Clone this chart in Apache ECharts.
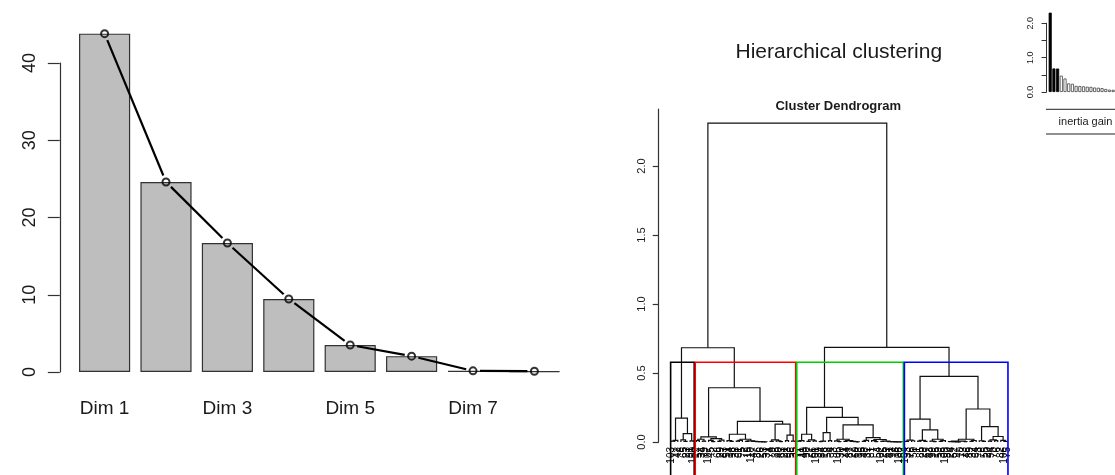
<!DOCTYPE html>
<html><head><meta charset="utf-8">
<script src="https://cdn.jsdelivr.net/npm/echarts@6/dist/echarts.min.js"></script>
<style>html,body{margin:0;padding:0;background:#fff}#c{width:1115px;height:475px}</style>
</head><body><div id="c"></div>
<script>
// ---------- scree plot data ----------
const dims = ['Dim 1','Dim 2','Dim 3','Dim 4','Dim 5','Dim 6','Dim 7','Dim 8'];
const eigPct = [43.8, 24.6, 16.7, 9.45, 3.5, 2.05, 0.15, 0.1];
const screeTicks = [0, 10, 20, 30, 40];

// ---------- dendrogram data (leaves = positions in plotting order, [left, right, height]) ----------
const clusterBlack = [[[0,1,0.006],2,0.012],[[3,[4,5,0.004],0.015],[6,7,0.008],0.06],0.173];
const clusterRed = [
  [[[8,9,0.01],[10,11,0.006],0.02],[[12,[13,14,0.003],0.012],[[15,16,0.005],17,0.014],0.025],0.037],
  [
    [[18,[19,20,0.004],0.01],[[[21,22,0.006],23,0.012],[[24,25,0.004],[26,[27,[28,[29,[30,31,0.001],0.001],0.002],0.003],0.004],0.008],0.02],0.056],
    [[[32,33,0.005],[34,[35,36,0.003],0.008],0.015],[[37,38,0.01],[39,40,0.007],0.05],0.13],
    0.149
  ],
  0.393
];
const clusterGreen = [
  [[[41,42,0.006],43,0.01],[[44,45,0.004],[46,47,0.008],0.015],0.056],
  [
    [[[48,49,0.003],50,0.006],[51,52,0.01],0.068],
    [
      [[53,[54,55,0.002],0.008],[[56,57,0.004],[58,[59,[60,61,0.001],0.002],0.005],0.01],0.02],
      [[[62,63,0.005],64,0.012],[[65,[66,67,0.003],0.01],[[68,69,0.004],[70,[71,[72,[73,[74,75,0.001],0.001],0.001],0.002],0.003],0.006],0.018],0.031],
      0.124
    ],
    0.178
  ],
  0.251
];
const clusterBlue = [
  [[[76,77,0.005],[78,79,0.009],0.014],[[[80,81,0.006],[82,83,0.004],0.012],[[84,[85,86,0.003],0.007],[[87,88,0.005],89,0.01],0.02],0.088],0.166],
  [
    [[[90,[91,[92,[93,94,0.001],0.001],0.002],0.003],[95,96,0.002],0.006],[[97,98,0.005],99,0.011],0.02],
    [[100,[101,102,0.004],0.009],[[[103,104,0.006],[105,106,0.01],0.015],[107,[108,109,0.005],0.012],0.04],0.112],
    0.239
  ],
  0.476
];
const upperHeights = [0.683, 0.686, 2.31]; // black+red, green+blue, root
const clusterSizes = [8, 33, 35, 34];
const clusterColors = ['#000000', '#FF0000', '#00CD00', '#0000FF'];
const cutHeight = 0.578;
const dendroTicks = [0, 0.5, 1, 1.5, 2];
const leafLabels = [103,17,42,8,65,23,91,100,12,57,34,79,107,45,2,68,29,83,51,14,96,38,61,5,72,19,110,47,86,26,
  53,31,74,9,88,40,63,21,98,56,35,77,11,49,90,27,66,101,39,84,16,58,4,93,105,30,71,44,87,22,
  60,13,95,48,37,81,7,54,102,25,69,41,92,18,108,62,104,33,76,50,1,85,28,67,43,99,15,59,36,109,
  80,24,52,97,10,73,46,89,32,64,3,78,55,20,94,70,6,82,106,75];

// ---------- inertia gain inset ----------
const inertiaGain = [2.31, 0.686, 0.683, 0.476, 0.393, 0.251, 0.239, 0.178, 0.173, 0.166, 0.154, 0.149, 0.13, 0.124, 0.112, 0.088, 0.068, 0.063];
const inertiaTicks = [0, 0.5, 1, 1.5, 2];
const nbClusters = 4;

const FONT = "'Liberation Sans', Arial, sans-serif";
const TXT = '#1a1a1a';

// build dendrogram segments
const tree = [[clusterBlack, clusterRed, upperHeights[0]], [clusterGreen, clusterBlue, upperHeights[1]], upperHeights[2]];
const segs = [];
function lay(n) {
  if (typeof n === 'number') return {x: n, h: 0};
  const l = lay(n[0]), r = lay(n[1]);
  segs.push([l.x, r.x, l.h, r.h, n[2]]);
  return {x: (l.x + r.x) / 2, h: n[2]};
}
lay(tree);

const rects = [];
let start = 0;
clusterSizes.forEach((s, i) => { rects.push([start - 0.34, start + s - 1 + 0.33, cutHeight, -0.4, i]); start += s; });

const screeSegs = eigPct.slice(0, -1).map((v, i) => [i, v, eigPct[i + 1]]);

const chart = echarts.init(document.getElementById('c'), null, {renderer: 'canvas'});
chart.setOption({
  animation: false,
  backgroundColor: '#fff',
  grid: [
    {left: 73.9, top: 63, width: 491.2, height: 309},
    {left: 668.6, top: 109, width: 344.5, height: 333},
    {left: 1048.35, top: 23.3, width: 77.4, height: 68.7}
  ],
  xAxis: [
    {gridIndex: 0, type: 'category', data: dims, axisLine: {show: false}, axisTick: {show: false},
      axisLabel: {interval: 1, fontSize: 19, color: TXT, fontFamily: FONT, margin: 27}},
    {gridIndex: 1, type: 'value', min: -1, max: 111, show: false},
    {gridIndex: 2, type: 'category', data: inertiaGain.map((_, i) => String(i + 1)), show: false}
  ],
  yAxis: [
    {gridIndex: 0, type: 'value', min: screeTicks[0], max: screeTicks[screeTicks.length - 1], interval: 10, offset: 14.1,
      splitLine: {show: false}, axisLine: {show: true, onZero: false, lineStyle: {color: '#333', width: 1.2}},
      axisTick: {show: true, length: 12, lineStyle: {color: '#333', width: 1.2}},
      axisLabel: {rotate: 90, fontSize: 18, color: TXT, fontFamily: FONT, margin: 21}},
    {gridIndex: 1, type: 'value', min: 0, max: 2.413, offset: 9.9,
      splitLine: {show: false}, axisLine: {show: true, onZero: false, lineStyle: {color: '#333', width: 1.2}},
      axisTick: {show: true, length: 6, customValues: dendroTicks, lineStyle: {color: '#333', width: 1.2}},
      axisLabel: {rotate: 90, fontSize: 11, color: TXT, fontFamily: FONT, margin: 11, customValues: dendroTicks,
        formatter: v => Number(v).toFixed(1)}},
    {gridIndex: 2, type: 'value', min: 0, max: 2, offset: 1.8,
      splitLine: {show: false}, axisLine: {show: true, onZero: false, lineStyle: {color: '#333', width: 1}},
      axisTick: {show: true, length: 5, customValues: inertiaTicks, lineStyle: {color: '#333', width: 1}},
      axisLabel: {rotate: 90, fontSize: 9, color: TXT, fontFamily: FONT, margin: 12, customValues: [0, 1, 2],
        formatter: v => Number(v).toFixed(1)}}
  ],
  series: [
    {type: 'bar', xAxisIndex: 0, yAxisIndex: 0, data: eigPct, barWidth: '83.3%', clip: false,
      itemStyle: {color: '#BEBEBE', borderColor: '#333', borderWidth: 1.2}},
    {type: 'custom', xAxisIndex: 0, yAxisIndex: 0, data: screeSegs, clip: false, z: 5,
      renderItem: (params, api) => {
        const a = api.coord([api.value(0), api.value(1)]);
        const b = api.coord([api.value(0) + 1, api.value(2)]);
        const dx = b[0] - a[0], dy = b[1] - a[1], L = Math.hypot(dx, dy), g = 7;
        if (L < 2 * g + 1) return null;
        const ux = dx / L, uy = dy / L;
        return {type: 'line', shape: {x1: a[0] + ux * g, y1: a[1] + uy * g, x2: b[0] - ux * g, y2: b[1] - uy * g},
          style: {stroke: '#000', lineWidth: 2.2}};
      }},
    {type: 'scatter', xAxisIndex: 0, yAxisIndex: 0, data: eigPct, symbol: 'circle', symbolSize: 7, clip: false, z: 6,
      itemStyle: {color: 'rgba(0,0,0,0)', borderColor: '#000', borderWidth: 2}},

    {type: 'custom', xAxisIndex: 1, yAxisIndex: 1, data: segs, clip: false,
      renderItem: (params, api) => {
        const p1 = api.coord([api.value(0), api.value(2)]);
        const p2 = api.coord([api.value(0), api.value(4)]);
        const p3 = api.coord([api.value(1), api.value(4)]);
        const p4 = api.coord([api.value(1), api.value(3)]);
        return {type: 'polyline', shape: {points: [p1, p2, p3, p4]}, style: {stroke: '#111', lineWidth: 1.2, fill: null}};
      }},
    {type: 'custom', xAxisIndex: 1, yAxisIndex: 1, data: rects, clip: false, z: 4,
      renderItem: (params, api) => {
        const a = api.coord([api.value(0), api.value(3)]);
        const b = api.coord([api.value(0), api.value(2)]);
        const c = api.coord([api.value(1), api.value(2)]);
        const d = api.coord([api.value(1), api.value(3)]);
        return {type: 'polyline', shape: {points: [a, b, c, d]},
          style: {stroke: clusterColors[api.value(4)], lineWidth: 1.6, fill: null}};
      }},
    {type: 'custom', xAxisIndex: 1, yAxisIndex: 1, data: leafLabels.map((l, i) => [i, 0, l]), clip: false, z: 3,
      renderItem: (params, api) => {
        const p = api.coord([api.value(0), 0]);
        return {type: 'text', x: p[0], y: p[1] + 5, rotation: Math.PI / 2,
          style: {text: String(api.value(2)), align: 'right', verticalAlign: 'middle', fontSize: 10, fontFamily: FONT, fill: '#000'}};
      }},

    {type: 'bar', xAxisIndex: 2, yAxisIndex: 2, clip: false, barWidth: '83.3%',
      data: inertiaGain.map((v, i) => ({value: v, itemStyle: i < nbClusters - 1 ? {color: '#000', borderColor: '#000', borderWidth: 0.8} : {color: '#fff', borderColor: '#444', borderWidth: 0.8}}))}
  ],
  graphic: [
    {type: 'text', x: 838.8, y: 52.7, style: {text: 'Hierarchical clustering', fontSize: 21, fontFamily: FONT, fill: TXT, align: 'center', verticalAlign: 'middle'}},
    {type: 'text', x: 838.3, y: 106.5, style: {text: 'Cluster Dendrogram', fontSize: 13, fontWeight: 'bold', fontFamily: FONT, fill: TXT, align: 'center', verticalAlign: 'middle'}},
    {type: 'line', shape: {x1: 1046, y1: 109.3, x2: 1120, y2: 109.3}, style: {stroke: '#222', lineWidth: 1}},
    {type: 'line', shape: {x1: 1046, y1: 134, x2: 1120, y2: 134}, style: {stroke: '#222', lineWidth: 1}},
    {type: 'text', x: 1085.5, y: 122, style: {text: 'inertia gain', fontSize: 11, fontFamily: FONT, fill: TXT, align: 'center', verticalAlign: 'middle'}}
  ]
});
</script></body></html>
